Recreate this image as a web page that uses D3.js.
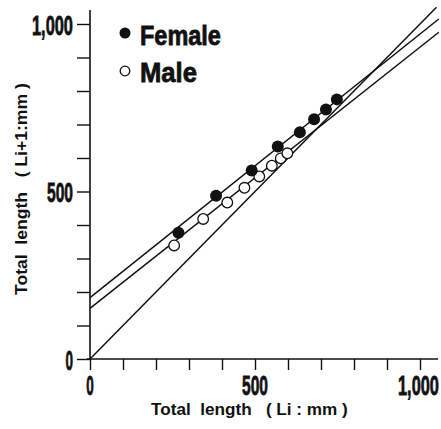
<!DOCTYPE html>
<html>
<head>
<meta charset="utf-8">
<script src="https://cdn.jsdelivr.net/npm/d3@7"></script>
<style>
  body { margin: 0; background: #fff; }
  svg { display: block; }
  text { font-family: "Liberation Sans", Arial, sans-serif; fill: #111; }
</style>
</head>
<body>
<script>
// data (mm)
var femaleLi  = [268, 382, 490, 569, 636, 679, 715, 748];
var femaleLi1 = [377, 487, 563, 634, 677, 716, 745, 775];
var maleLi    = [255, 343, 416, 468, 513, 551, 578, 598];
var maleLi1   = [339, 418, 467, 511, 545, 577, 599, 614];

// regression lines: Li+1 = a + b * Li, plus the 1:1 line
var lineNames = ["Female", "Male", "1:1"];
var lineA     = [183, 151, 0];
var lineB     = [0.787, 0.78, 1];
var lineEnd   = [1057, 1057, 1050];

var tickValues = d3.range(0, 1001, 100);
var labelValues = [0, 500, 1000];
var labelTexts  = ["0", "500", "1,000"];
var labelWidths = [7.5, 26, 41];

var W = 441, H = 429;

var svg = d3.select("body").append("svg")
    .attr("width", W)
    .attr("height", H);

//scales
var x = d3.scaleLinear().domain([0, 1000]).range([90, 420]);
var y = d3.scaleLinear().domain([0, 1000]).range([359, 24]);

var ink = "#111";

//ticks via d3 axes, no domain path (drawn by hand below so it can overshoot)
var xAxis = d3.axisBottom(x).tickValues(tickValues).tickSize(11).tickFormat("");
var yAxis = d3.axisLeft(y).tickValues(tickValues).tickSize(13).tickFormat("");

var gx = svg.append("g")
    .attr("transform", "translate(0," + y(0) + ")")
    .call(xAxis);
var gy = svg.append("g")
    .attr("transform", "translate(" + x(0) + ",0)")
    .call(yAxis);
gx.select(".domain").remove();
gy.select(".domain").remove();
svg.selectAll(".tick line").attr("stroke", ink).attr("stroke-width", 1.4);

//axis lines
svg.append("line")
    .attr("x1", x(-10)).attr("x2", x(1055))
    .attr("y1", y(0)).attr("y2", y(0))
    .attr("stroke", ink).attr("stroke-width", 1.6);
svg.append("line")
    .attr("x1", x(0)).attr("x2", x(0))
    .attr("y1", y(0)).attr("y2", y(1042))
    .attr("stroke", ink).attr("stroke-width", 1.6);

//condensed text: measure natural width, then squeeze it with scale()
function squeezeText(tx, ty, w, str, size, rot, heavy) {
    var t = svg.append("text")
        .attr("font-size", size)
        .attr("font-weight", "bold")
        .style("white-space", "pre")
        .text(str);
    if (heavy) t.attr("stroke", ink).attr("stroke-width", 0.8);
    var sx = w / t.node().getComputedTextLength();
    t.attr("transform", "translate(" + tx + "," + ty + ")" +
        (rot ? " rotate(" + rot + ")" : "") + " scale(" + sx + ",1)");
    return t;
}

//tick labels
labelValues.forEach(function(v, i) {
    var w = labelWidths[i];
    squeezeText(Math.min(x(v) - w / 2, W - w - 2), 395, w, labelTexts[i], 28, 0, true);
    squeezeText(73 - w, y(v) + 10.5, w, labelTexts[i], 28, 0, true);
});

//axis titles
squeezeText(151, 415, 197, "Total  length   ( Li : mm )", 17, 0, false);
squeezeText(27, 295, 212, "Total  length   ( Li+1:mm )", 17, -90, false);

//lines
lineNames.forEach(function(n, i) {
    svg.append("line")
        .attr("x1", x(0)).attr("y1", y(lineA[i]))
        .attr("x2", x(lineEnd[i])).attr("y2", y(lineA[i] + lineB[i] * lineEnd[i]))
        .attr("stroke", ink)
        .attr("stroke-width", 1.5);
});

//points
svg.selectAll(".male")
    .data(maleLi)
    .enter().append("circle")
    .attr("class", "male")
    .attr("cx", function(d) { return x(d); })
    .attr("cy", function(d, i) { return y(maleLi1[i]); })
    .attr("r", 5.3)
    .attr("fill", "#fff")
    .attr("stroke", ink)
    .attr("stroke-width", 1.3);

svg.selectAll(".female")
    .data(femaleLi)
    .enter().append("circle")
    .attr("class", "female")
    .attr("cx", function(d) { return x(d); })
    .attr("cy", function(d, i) { return y(femaleLi1[i]); })
    .attr("r", 6)
    .attr("fill", ink);

//legend
svg.append("circle").attr("cx", 125).attr("cy", 33).attr("r", 5.5).attr("fill", ink);
svg.append("circle").attr("cx", 125).attr("cy", 71).attr("r", 4.8)
    .attr("fill", "#fff").attr("stroke", ink).attr("stroke-width", 1.3);
squeezeText(140, 45, 81, "Female", 28, 0, true);
squeezeText(140, 82, 57, "Male", 28, 0, true);
</script>
</body>
</html>
